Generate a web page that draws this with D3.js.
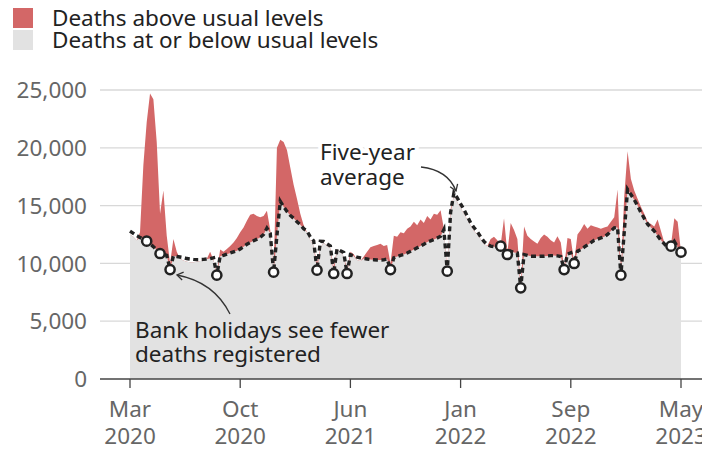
<!DOCTYPE html>
<html>
<head>
<meta charset="utf-8">
<script src="https://cdn.jsdelivr.net/npm/d3@7"></script>
<style>
  body { margin: 0; background: #fff; }
  svg { display: block; font-family: "Noto Sans", sans-serif; }
</style>
</head>
<body>
<svg width="702" height="449"></svg>
<script>

// weekly deaths, first week ending 6 Mar 2020, last week ending 5 May 2023
let deaths = [
    12500, 12300, 12000, 12700, 18500, 22200, 24700, 24200, 20500, 14300,
    16300, 12400, 10000, 12100, 11000, 10400, 10250, 10150, 10100, 10100,
    10150, 10200, 10250, 10400, 11000, 10300, 9200, 11200, 11000, 11250,
    11500, 11800, 12200, 12700, 13100, 13700, 14200, 14300, 14100, 14000,
    14100, 14550, 12900, 9300, 20000, 20700, 20500, 19800, 18300, 16800,
    15600, 14300, 13300, 12700, 12000, 11500, 10000, 11300, 11800, 11500,
    11300, 9700, 11200, 11000, 10600, 9500, 11000, 10800, 10300, 10200,
    10600, 11000, 11400, 11500, 11600, 11700, 11500, 11600, 10000, 12400,
    12300, 12700, 12600, 13000, 13200, 13600, 13300, 13800, 13500, 14100,
    13800, 14300, 14200, 14600, 13000, 9400, 14700, 15900, 15300, 14800,
    14300, 13800, 13300, 12800, 12500, 12100, 11700, 11500, 12100, 12300,
    12000, 11600, 13900, 10900, 13500, 12900, 12100, 8000, 13200, 12400,
    12100, 11900, 11700, 12200, 12500, 12300, 12000, 11800, 12350, 11800,
    9600, 12200, 12100, 10100, 12500, 12900, 13400, 13000, 13300, 13200,
    13100, 13000, 13100, 13200, 13600, 14000, 16400, 9100, 15800, 19700,
    17300, 16300, 15600, 14900, 14300, 13600, 13400, 13200, 13800, 12800,
    11800, 11600, 11600, 13900, 13600, 11000
];

let fiveYearAvg = [
    12800, 12600, 12400, 12250, 12100, 11920, 11700, 11450, 11150, 10855,
    10800, 10700, 9470, 10650, 10600, 10550, 10500, 10420, 10380, 10350,
    10330, 10330, 10350, 10380, 10420, 10480, 8980, 10620, 10700, 10800,
    10900, 11000, 11100, 11250, 11450, 11650, 11800, 11950, 12100, 12250,
    12500, 13050, 12600, 9240, 12400, 15380, 14900, 14500, 14150, 13900,
    13600, 13350, 13000, 12800, 12300, 11950, 9410, 11920, 11900, 11700,
    11500, 9125, 11250, 11100, 10950, 9125, 10750, 10650, 10550, 10480,
    10420, 10380, 10340, 10320, 10300, 10290, 10300, 10380, 9470, 10480,
    10600, 10700, 10780, 10900, 11050, 11200, 11350, 11500, 11650, 11850,
    11950, 12070, 12200, 12350, 12930, 9325, 14400, 16100, 15670, 15150,
    14660, 14100, 13510, 13100, 12750, 12300, 11900, 11630, 11500, 11450,
    11480, 11490, 11300, 10770, 11055, 10950, 10900, 7890, 10770, 10700,
    10620, 10620, 10620, 10620, 10620, 10650, 10670, 10680, 10650, 10600,
    9470, 10800, 10920, 9990, 11055, 11200, 11400, 11600, 11800, 12000,
    12100, 12200, 12300, 12500, 12800, 13080, 13100, 8980, 12700, 16400,
    15960, 15500, 15000, 14400, 13900, 13400, 13100, 12800, 12400, 12000,
    11700, 11300, 11490, 11900, 11400, 10970
];

// weeks that include a bank holiday (index into the arrays above)
let bankHolidayWeeks = [5, 9, 12, 26, 43, 56, 61, 65, 78, 95, 111, 113, 117, 130, 133, 147, 162, 165];

let xTickWeeks = [0, 33, 66, 99, 132, 165];
let xTickMonths = ['Mar', 'Oct', 'Jun', 'Jan', 'Sep', 'May'];
let xTickYears = ['2020', '2020', '2021', '2022', '2022', '2023'];
let yTicks = [0, 5000, 10000, 15000, 20000, 25000];

let legendLabels = ['Deaths above usual levels', 'Deaths at or below usual levels'];

let svg = d3.select('svg');
let width = +svg.attr('width');
let height = +svg.attr('height');
let margin = { top: 90, right: 21, bottom: 70, left: 130 };

let red = '#d36767';
let grey = '#e2e2e2';
let ink = '#222';
let fontSize = '22.5px';

let data = deaths.map((d, i) => ({ week: i, deaths: d, avg: fiveYearAvg[i] }));

let x = d3.scaleLinear()
    .domain([0, deaths.length - 1])
    .range([margin.left, width - margin.right]);

let y = d3.scaleLinear()
    .domain([0, 25000])
    .range([height - margin.bottom, margin.top]);

// grid + y labels
svg.append('g')
    .selectAll('line')
    .data(yTicks.slice(1))
    .enter().append('line')
    .attr('x1', 100)
    .attr('x2', width)
    .attr('y1', d => y(d))
    .attr('y2', d => y(d))
    .style('stroke', '#d8d8d8')
    .style('stroke-width', 1.3);

svg.append('g')
    .selectAll('text')
    .data(yTicks)
    .enter().append('text')
    .attr('x', 87)
    .attr('y', d => y(d))
    .attr('dy', '0.36em')
    .attr('text-anchor', 'end')
    .style('font-size', fontSize)
    .style('fill', '#666')
    .text(d => d3.format(',')(d));

// red = all deaths, grey = deaths up to the average
svg.append('path')
    .datum(data)
    .attr('d', d3.area().x(d => x(d.week)).y0(y(0)).y1(d => y(d.deaths)))
    .style('fill', red);

svg.append('path')
    .datum(data)
    .attr('d', d3.area().x(d => x(d.week)).y0(y(0)).y1(d => y(Math.min(d.deaths, d.avg))))
    .style('fill', grey);

// baseline and x axis
svg.append('line')
    .attr('x1', 100)
    .attr('x2', width)
    .attr('y1', y(0))
    .attr('y2', y(0))
    .style('stroke', '#444')
    .style('stroke-width', 1.5);

let xt = svg.append('g')
    .selectAll('g')
    .data(xTickWeeks)
    .enter().append('g')
    .attr('transform', d => 'translate(' + x(d) + ',' + y(0) + ')');

xt.append('line')
    .attr('y1', 0)
    .attr('y2', 9)
    .style('stroke', '#444')
    .style('stroke-width', 1.3);

xt.append('text')
    .attr('text-anchor', 'middle')
    .attr('y', 38)
    .style('font-size', fontSize)
    .style('fill', '#666')
    .text((d, i) => xTickMonths[i]);

xt.append('text')
    .attr('text-anchor', 'middle')
    .attr('y', 65)
    .style('font-size', fontSize)
    .style('fill', '#666')
    .text((d, i) => xTickYears[i]);

// five-year average
svg.append('path')
    .datum(data)
    .attr('d', d3.line().x(d => x(d.week)).y(d => y(d.avg)))
    .style('fill', 'none')
    .style('stroke', ink)
    .style('stroke-width', 3.4)
    .style('stroke-dasharray', '5,3.5');

svg.append('g')
    .selectAll('circle')
    .data(bankHolidayWeeks)
    .enter().append('circle')
    .attr('cx', d => x(d))
    .attr('cy', d => y(fiveYearAvg[d]))
    .attr('r', 4.6)
    .style('fill', '#fff')
    .style('stroke', ink)
    .style('stroke-width', 2.5);

// legend
let legendColours = [red, grey];
let lg = svg.append('g')
    .selectAll('g')
    .data(legendLabels)
    .enter().append('g')
    .attr('transform', (d, i) => 'translate(13,' + (8 + i * 22) + ')');

lg.append('rect')
    .attr('width', 20)
    .attr('height', 20)
    .style('fill', (d, i) => legendColours[i]);

lg.append('text')
    .attr('x', 39)
    .attr('y', 18)
    .style('font-size', fontSize)
    .style('fill', ink)
    .text(d => d);

// annotations
svg.append('defs').append('marker')
    .attr('id', 'head')
    .attr('viewBox', '-7 -5 9 10')
    .attr('markerWidth', 9)
    .attr('markerHeight', 10)
    .attr('markerUnits', 'userSpaceOnUse')
    .attr('orient', 'auto')
    .append('path')
    .attr('d', 'M-6,-4L0,0L-6,4')
    .style('fill', 'none')
    .style('stroke', '#333')
    .style('stroke-width', 1.3);

svg.append('text')
    .attr('x', 320)
    .attr('y', 160)
    .style('font-size', fontSize)
    .style('fill', ink)
    .style('stroke', '#fff')
    .style('stroke-width', 8)
    .style('paint-order', 'stroke')
    .selectAll('tspan')
    .data(['Five-year', 'average'])
    .enter().append('tspan')
    .attr('x', 320)
    .attr('dy', (d, i) => i ? 25 : 0)
    .text(d => d);

svg.append('path')
    .attr('d', 'M421,167Q448,170 456,191')
    .style('fill', 'none')
    .style('stroke', '#333')
    .style('stroke-width', 1.3)
    .attr('marker-end', 'url(#head)');

svg.append('text')
    .attr('x', 135)
    .attr('y', 338)
    .style('font-size', fontSize)
    .style('fill', ink)
    .selectAll('tspan')
    .data(['Bank holidays see fewer', 'deaths registered'])
    .enter().append('tspan')
    .attr('x', 135)
    .attr('dy', (d, i) => i ? 24 : 0)
    .text(d => d);

svg.append('path')
    .attr('d', 'M230,314Q214,282 177,275')
    .style('fill', 'none')
    .style('stroke', '#333')
    .style('stroke-width', 1.3)
    .attr('marker-end', 'url(#head)');

</script>
</body>
</html>
